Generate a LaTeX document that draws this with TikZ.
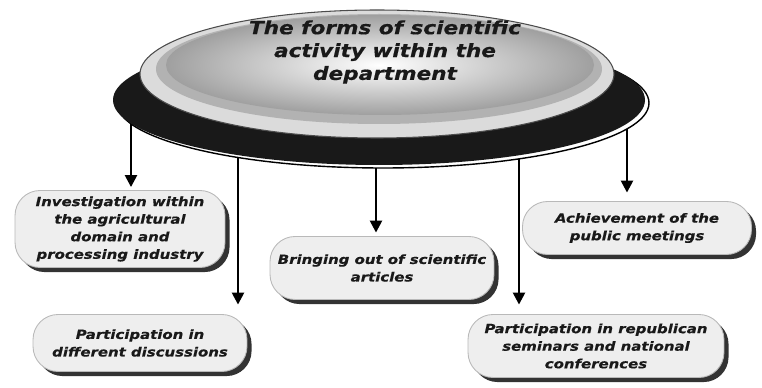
\documentclass[tikz,border=0pt]{standalone}
\usepackage{fontspec}
\setmainfont{DejaVu Sans}
\newfontfamily\heavyfont{DejaVu Sans Bold Oblique}[FakeStretch=1.18, FakeBold=0.5]
\usetikzlibrary{positioning,arrows.meta,shadows}

\begin{document}
\begin{tikzpicture}[x=0.02cm,y=-0.02cm,
  box/.style={draw=gray!55, line width=0.5pt, fill=gray!13, rounded corners=0.5cm,
    align=center, inner sep=2pt, text=black!90,
    font=\heavyfont\fontsize{7.2}{10}\selectfont,
    drop shadow={shadow xshift=2.6pt, shadow yshift=-2.6pt, fill=black!80, opacity=1}},
  arr/.style={line width=1.4pt, -{Triangle[length=0.24cm,width=0.24cm]}}]
\useasboundingbox (0,0) rectangle (762,388);

\node[box, minimum width=4.2cm, minimum height=1.54cm] (inv) at (120,229)
  {Investigation within\\the agricultural\\domain and\\processing industry};
\node[box, minimum width=4.28cm, minimum height=1.14cm] (disc) at (140,343)
  {Participation in\\different discussions};
\node[box, minimum width=4.48cm, minimum height=1.26cm] (art) at (382,268)
  {Bringing out of scientific\\articles};
\node[box, minimum width=5.12cm, minimum height=1.26cm] (rep) at (596,346)
  {Participation in republican\\seminars and national\\conferences};
\node[box, minimum width=4.58cm, minimum height=1.06cm] (pub) at (637,228)
  {Achievement of the\\public meetings};

\coordinate (s1) at (131,100);
\coordinate (s2) at (238,100);
\coordinate (s3) at (376,100);
\coordinate (s4) at (519,100);
\coordinate (s5) at (627,100);

\draw[arr, shorten >=0.06cm] (s1) -- (s1 |- inv.north);
\draw[arr, shorten >=0.19cm] (s2) -- (s2 |- disc.north);
\draw[arr, shorten >=0.07cm] (s3) -- (s3 |- art.north);
\draw[arr, shorten >=0.19cm] (s4) -- (s4 |- rep.north);
\draw[arr, shorten >=0.17cm] (s5) -- (s5 |- pub.north);

\filldraw[fill=white, draw=black, line width=0.8pt] (383,103) ellipse [x radius=266, y radius=65];
\fill[black!90] (379,100) ellipse [x radius=266, y radius=65];
\filldraw[fill=gray!28, draw=black!70, line width=0.6pt] (377,74) ellipse [x radius=237, y radius=64];
\fill[gray!60] (379,69) ellipse [x radius=223, y radius=55];
\shade[inner color=white, outer color=gray!75] (380,65) ellipse [x radius=214, y radius=50];

\node[align=center, text=black!90, font=\heavyfont\fontsize{10.4}{13}\selectfont] (title) at (385,52)
  {The forms of scientific\\activity within the\\department};
\end{tikzpicture}
\end{document}
